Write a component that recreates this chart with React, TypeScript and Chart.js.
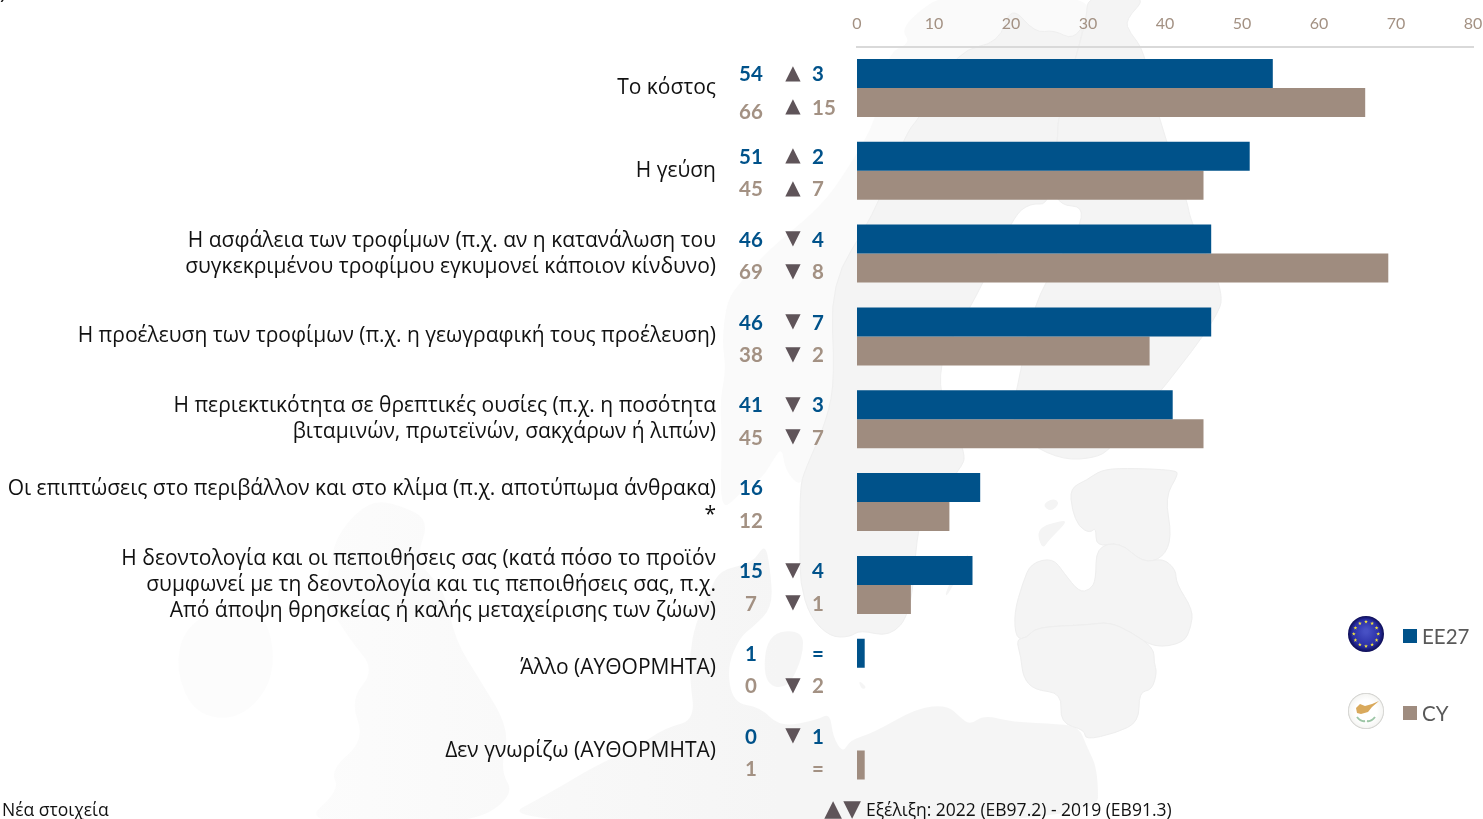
import React, { useEffect, useRef } from "react";
import { Chart, registerables } from "chart.js";

Chart.register(...registerables);

const categories: string[][] = [
  ["Το κόστος"],
  ["Η γεύση"],
  ["Η ασφάλεια των τροφίμων (π.χ. αν η κατανάλωση του", "συγκεκριμένου τροφίμου εγκυμονεί κάποιον κίνδυνο)"],
  ["Η προέλευση των τροφίμων (π.χ. η γεωγραφική τους προέλευση)"],
  ["Η περιεκτικότητα σε θρεπτικές ουσίες (π.χ. η ποσότητα", "βιταμινών, πρωτεϊνών, σακχάρων ή λιπών)"],
  ["Οι επιπτώσεις στο περιβάλλον και στο κλίμα (π.χ. αποτύπωμα άνθρακα)", "*"],
  ["Η δεοντολογία και οι πεποιθήσεις σας (κατά πόσο το προϊόν", "συμφωνεί με τη δεοντολογία και τις πεποιθήσεις σας, π.χ.", "Από άποψη θρησκείας ή καλής μεταχείρισης των ζώων)"],
  ["Άλλο (ΑΥΘΟΡΜΗΤΑ)"],
  ["Δεν γνωρίζω (ΑΥΘΟΡΜΗΤΑ)"],
];
const euValues = [54, 51, 46, 46, 41, 16, 15, 1, 0];
const cyValues = [66, 45, 69, 38, 45, 12, 7, 0, 1];
const euDeltas = ["3", "2", "4", "7", "3", "", "4", "=", "1"];
const cyDeltas = ["15", "7", "8", "2", "7", "", "1", "2", "="];
const euTrend = ["▲", "▲", "▼", "▼", "▼", "", "▼", "", "▼"];
const cyTrend = ["▲", "▲", "▼", "▼", "▼", "", "▼", "▼", ""];
const seriesNames = ["EE27", "CY"];

const BLUE = "#00528a";
const TAN = "#9f8c7f";
const TAN_TEXT = "#a39183";
const TRI = "#5f5459";

type P = [number, number];
const scandinaviaWest: P[] = [[944,-5],[920,10],[901,30],[911,43],[887,53],[878,117],[849,167],[821,207],[768,250],[740,283],[727,300],[722,340],[726,370],[720,400],[722,440],[720,513],[740,493],[763,477],[773,460],[782,447],[785,470],[800,487],[805,470],[827,420],[835,377],[830,283],[873,217],[906,133],[920,117],[958,50],[999,43],[1011,5],[1035,33],[1054,30],[1073,40],[1087,20],[1087,-5]];
const sweden: P[] = [[1011,5],[1035,33],[1054,30],[1073,40],[1087,20],[1058,117],[1058,137],[1050,205],[1030,203],[1013,217],[978,295],[930,375],[967,453],[960,470],[925,510],[917,533],[911,613],[890,637],[860,630],[850,637],[830,637],[810,617],[800,583],[800,547],[800,487],[805,470],[827,420],[835,377],[830,283],[873,217],[906,133],[920,117],[958,50],[999,43]];
const finland: P[] = [[1087,-5],[1149,-5],[1125,20],[1130,33],[1144,50],[1158,117],[1187,200],[1191,223],[1225,293],[1215,320],[1168,383],[1110,450],[1094,458],[1064,460],[1030,445],[1010,420],[1020,375],[1035,295],[1094,207],[1050,205],[1058,137],[1058,117],[1087,20]];
const estonia: P[] = [[1070,488],[1087,480],[1101,470],[1124,468],[1176,470],[1178,475],[1165,497],[1172,537],[1163,558],[1143,563],[1120,542],[1096,547],[1096,527],[1090,533],[1079,527],[1072,510]];
const saaremaa: P[] = [[1036,528],[1064,520],[1066,523],[1049,540],[1042,550]];
const hiiumaa: P[] = [[1042,505],[1053,498],[1060,503],[1051,512]];
const gotland: P[] = [[945,600],[947,587],[971,548],[963,567]];
const latvia: P[] = [[1023,582],[1031,563],[1053,558],[1064,573],[1079,592],[1090,590],[1096,580],[1096,547],[1120,542],[1143,563],[1163,558],[1176,570],[1176,583],[1193,610],[1191,627],[1184,643],[1154,648],[1131,632],[1109,622],[1087,625],[1036,627],[1027,638],[1016,639],[1014,613]];
const lithuania: P[] = [[1016,639],[1027,638],[1036,627],[1087,625],[1109,622],[1131,632],[1154,648],[1154,663],[1157,672],[1152,690],[1139,692],[1139,722],[1116,733],[1085,740],[1085,730],[1060,723],[1062,693],[1034,690],[1023,677],[1021,657]];
const continent: P[] = [[490,825],[555,790],[593,767],[640,745],[665,728],[695,720],[690,680],[690,653],[695,625],[710,590],[720,570],[753,563],[765,543],[770,567],[773,607],[753,627],[740,637],[727,667],[733,703],[760,707],[780,727],[817,720],[830,713],[833,737],[843,753],[850,740],[873,733],[917,708],[947,705],[960,717],[970,725],[984,715],[1012,722],[1060,724],[1079,727],[1087,747],[1098,770],[1098,825]];
const zealand: P[] = [[767,633],[803,630],[803,657],[787,690],[763,683]];
const bornholm: P[] = [[858,680],[867,687],[862,690]];
const britain: P[] = [[340,530],[370,500],[400,505],[430,520],[415,560],[445,590],[455,640],[480,680],[510,730],[500,770],[515,795],[470,825],[300,825],[340,790],[330,770],[365,740],[350,700],[375,670],[350,640],[325,600],[330,560]];
const ireland: P[] = [[185,625],[235,600],[270,620],[275,680],[240,720],[195,715],[175,670]];

function smooth(ctx: CanvasRenderingContext2D, pts: P[]) {
  ctx.beginPath();
  const n = pts.length;
  const mid = (a: P, b: P): P => [(a[0] + b[0]) / 2, (a[1] + b[1]) / 2];
  const s = mid(pts[n - 1], pts[0]);
  ctx.moveTo(s[0], s[1]);
  for (let i = 0; i < n; i++) {
    const m = mid(pts[i], pts[(i + 1) % n]);
    ctx.quadraticCurveTo(pts[i][0], pts[i][1], m[0], m[1]);
  }
  ctx.closePath();
}

const mapPlugin = {
  id: "mapBackdrop",
  beforeDraw(chart: any) {
    const ctx: CanvasRenderingContext2D = chart.ctx;
    ctx.save();
    ctx.fillStyle = "#ffffff";
    ctx.fillRect(0, 0, chart.width, chart.height);
    const shape = (pts: P[], fill: string | CanvasGradient, edge?: string) => {
      smooth(ctx, pts);
      ctx.fillStyle = fill;
      ctx.fill();
      if (edge) {
        ctx.strokeStyle = edge;
        ctx.lineWidth = 1;
        ctx.stroke();
      }
    };
    const g = ctx.createLinearGradient(300, 0, 780, 0);
    g.addColorStop(0, "#fcfcfc");
    g.addColorStop(1, "#f5f5f5");
    [britain, ireland, continent, zealand, bornholm].forEach((p) => shape(p, g));
    shape(scandinaviaWest, "#fafafa");
    [sweden, finland].forEach((p) => shape(p, "#f4f4f4", "#efefef"));
    [saaremaa, hiiumaa, gotland].forEach((p) => shape(p, "#f4f4f4"));
    [estonia, latvia, lithuania].forEach((p) => shape(p, "#f4f4f4", "#eeeeee"));
    ctx.restore();
  },
};

function euFlag(ctx: CanvasRenderingContext2D, cx: number, cy: number, r: number) {
  const g = ctx.createRadialGradient(cx, cy - 3, 2, cx, cy, r);
  g.addColorStop(0, "#4750c4");
  g.addColorStop(0.7, "#2a2fa6");
  g.addColorStop(1, "#0d0d55");
  ctx.fillStyle = g;
  ctx.beginPath();
  ctx.arc(cx, cy, r, 0, Math.PI * 2);
  ctx.fill();
  ctx.fillStyle = "#f5e63a";
  for (let i = 0; i < 12; i++) {
    const a = (i * Math.PI) / 6;
    const x = cx + Math.cos(a) * r * 0.68;
    const y = cy + Math.sin(a) * r * 0.68;
    ctx.beginPath();
    for (let k = 0; k < 10; k++) {
      const rr = k % 2 ? 0.8 : 2;
      const b = -Math.PI / 2 + (k * Math.PI) / 5;
      ctx.lineTo(x + Math.cos(b) * rr, y + Math.sin(b) * rr);
    }
    ctx.fill();
  }
}

function cyFlag(ctx: CanvasRenderingContext2D, cx: number, cy: number, r: number) {
  const g = ctx.createRadialGradient(cx, cy, r * 0.6, cx, cy, r);
  g.addColorStop(0, "#ffffff");
  g.addColorStop(0.8, "#f6f6f4");
  g.addColorStop(1, "#c4c4c0");
  ctx.fillStyle = g;
  ctx.beginPath();
  ctx.arc(cx, cy, r, 0, Math.PI * 2);
  ctx.fill();
  ctx.fillStyle = "#d9a95c";
  ctx.beginPath();
  ctx.moveTo(cx - 10, cy - 3);
  ctx.lineTo(cx - 6, cy - 7);
  ctx.lineTo(cx - 1, cy - 5);
  ctx.lineTo(cx + 6, cy - 7);
  ctx.lineTo(cx + 13, cy - 10);
  ctx.lineTo(cx + 6, cy - 4);
  ctx.lineTo(cx + 2, cy + 1);
  ctx.lineTo(cx - 5, cy + 3);
  ctx.lineTo(cx - 9, cy + 2);
  ctx.closePath();
  ctx.fill();
  ctx.strokeStyle = "#9cc5a5";
  ctx.lineWidth = 2;
  ctx.beginPath();
  ctx.moveTo(cx - 9, cy + 6);
  ctx.quadraticCurveTo(cx - 5, cy + 11, cx - 1, cy + 10);
  ctx.moveTo(cx + 9, cy + 6);
  ctx.quadraticCurveTo(cx + 5, cy + 11, cx + 1, cy + 10);
  ctx.stroke();
}

const overlayPlugin = {
  id: "rowTexts",
  afterDraw(chart: any) {
    const ctx: CanvasRenderingContext2D = chart.ctx;
    const yScale = chart.scales.y;
    ctx.save();
    ctx.textBaseline = "middle";
    const num = "bold 20.5px Lato";
    categories.forEach((_, i) => {
      const c = yScale.getPixelForValue(i);
      const yEu = c - 13.5;
      const yCy = c + 19 + (i === 0 ? 5 : 0);
      const yDeltaCy = c + 19 + (i === 0 ? 1 : 0);
      ctx.font = num;
      ctx.textAlign = "center";
      ctx.fillStyle = BLUE;
      ctx.fillText(String(euValues[i]), 751, yEu);
      ctx.fillStyle = TAN_TEXT;
      ctx.fillText(String(cyValues[i]), 751, yCy);
      ctx.textAlign = "left";
      ctx.fillStyle = BLUE;
      ctx.fillText(euDeltas[i], 812, yEu);
      ctx.fillStyle = TAN_TEXT;
      ctx.fillText(cyDeltas[i], 812, yDeltaCy);
      ctx.font = "20px 'DejaVu Sans'";
      ctx.textAlign = "center";
      ctx.fillStyle = TRI;
      ctx.fillText(euTrend[i], 793, yEu - 1);
      ctx.fillText(cyTrend[i], 793, yDeltaCy - 1);
    });

    // legend
    euFlag(ctx, 1366, 634, 18);
    cyFlag(ctx, 1366, 711, 18);
    ctx.fillStyle = BLUE;
    ctx.fillRect(1403, 629, 14, 14);
    ctx.fillStyle = TAN;
    ctx.fillRect(1403, 706, 14, 14);
    ctx.fillStyle = "#595959";
    ctx.font = "20.5px Lato";
    ctx.textAlign = "left";
    ctx.fillText(seriesNames[0], 1422, 637);
    ctx.fillText(seriesNames[1], 1422, 714);

    // footer
    ctx.fillStyle = "#111111";
    ctx.font = "17.5px 'Open Sans'";
    ctx.fillText("Νέα στοιχεία", 2, 811);
    ctx.fillText("Εξέλιξη: 2022 (EB97.2) - 2019 (EB91.3)", 866, 811);
    ctx.font = "21px 'Open Sans'";
    ctx.fillText(")", 0, -7);
    ctx.fillStyle = TRI;
    ctx.font = "23px 'DejaVu Sans'";
    ctx.textAlign = "center";
    ctx.fillText("▲", 833, 810);
    ctx.fillText("▼", 852, 810);
    ctx.restore();
  },
};

export default function App() {
  const ref = useRef<HTMLCanvasElement>(null);
  useEffect(() => {
    const chart = new Chart(ref.current as HTMLCanvasElement, {
      type: "bar",
      data: {
        labels: categories as any,
        datasets: [
          { label: seriesNames[0], data: euValues, backgroundColor: BLUE },
          { label: seriesNames[1], data: cyValues, backgroundColor: TAN },
        ],
      },
      options: {
        indexAxis: "y",
        responsive: false,
        animation: false,
        layout: { autoPadding: false, padding: { left: 0, right: 10, top: 0, bottom: 27 } },
        datasets: { bar: { barPercentage: 1, categoryPercentage: 0.7 } } as any,
        plugins: { legend: { display: false }, tooltip: { enabled: false } },
        scales: {
          x: {
            position: "top",
            min: 0,
            max: 80,
            afterFit: (s: any) => {
              s.height = 46.5;
              s.paddingLeft = 0;
              s.paddingRight = 0;
            },
            ticks: { stepSize: 10, color: TAN_TEXT, font: { family: "Lato", size: 16 }, padding: 13, maxRotation: 0, autoSkip: false },
            grid: { display: false, drawTicks: false },
            border: { display: true, color: "#d9d9d9", width: 2 },
          },
          y: {
            afterFit: (s: any) => {
              s.width = 857;
              s.paddingTop = 0;
              s.paddingBottom = 0;
            },
            ticks: { color: "#111111", font: { family: "'Open Sans'", size: 21, lineHeight: 1.24 }, padding: 141, labelOffset: 0, autoSkip: false },
            grid: { display: false, drawTicks: false },
            border: { display: false },
          },
        },
      },
      plugins: [mapPlugin, overlayPlugin],
    } as any);
    return () => chart.destroy();
  }, []);
  return (
    <canvas
      ref={ref}
      width={1483}
      height={819}
      style={{ position: "absolute", left: 0, top: 0, display: "block" }}
    />
  );
}
